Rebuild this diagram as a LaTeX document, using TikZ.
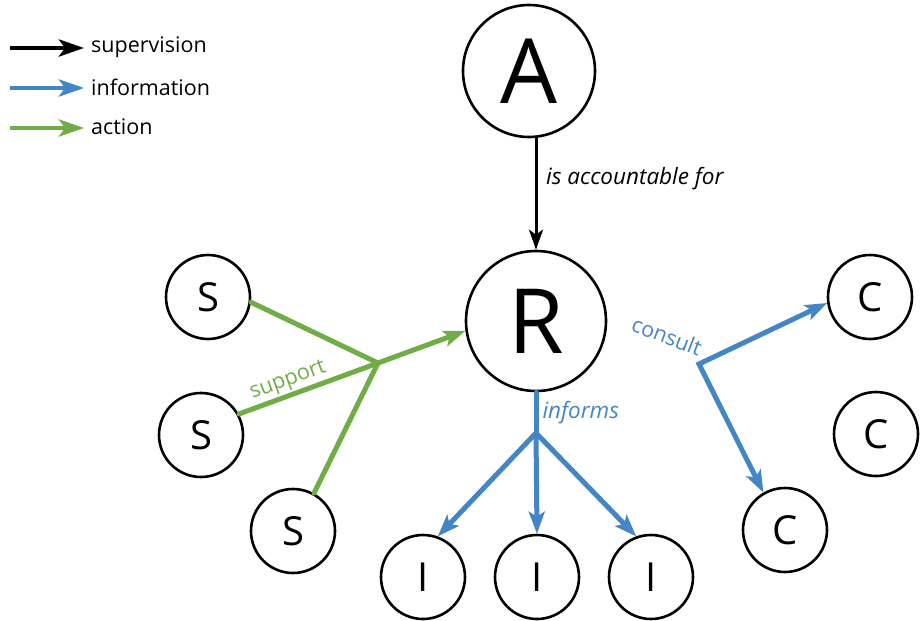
\documentclass[tikz,border=0pt]{standalone}
\usepackage{fontspec}
\setmainfont{Open Sans}
\usetikzlibrary{arrows.meta}
\definecolor{infoblue}{RGB}{68,133,197}
\definecolor{actgreen}{RGB}{112,173,71}

\begin{document}
\begin{tikzpicture}[x=1pt,y=-1pt,
    role/.style={circle,draw,line width=2.6pt,inner sep=0pt,minimum size=#1},
    role/.default=84pt,
    bigletter/.style={font=\fontsize{90}{90}\selectfont},
    letter/.style={font=\fontsize{40}{40}\selectfont},
    lbl/.style={font=\fontsize{21.5}{24}\selectfont,inner sep=1pt},
    itlbl/.style={font=\fontsize{22.5}{25}\selectfont\itshape,inner sep=1pt},
    tip/.style={-{Stealth[length=20pt,width=14pt,inset=5pt]}},
    supv/.style={line width=3pt,tip},
    info/.style={draw=infoblue,line width=5pt,line cap=round},
    act/.style={draw=actgreen,line width=5pt,line cap=round},
    legarrow/.style={line width=4.5pt,-{Stealth[length=25pt,width=17pt,inset=6pt]},shorten >=6pt}]
  \useasboundingbox (0,0) rectangle (922,621);

  % legend
  \node[lbl,anchor=west] (lsup) at (90,47) {supervision};
  \node[lbl,anchor=west] (linf) at (90,87) {information};
  \node[lbl,anchor=west] (lact) at (90,127) {action};
  \coordinate (lsup0) at (10,48);
  \coordinate (linf0) at (10,88);
  \coordinate (lact0) at (10,128);
  \draw[legarrow] (lsup0) -- (lsup.west |- lsup0);
  \draw[legarrow,infoblue] (linf0) -- (linf.west |- linf0);
  \draw[legarrow,actgreen] (lact0) -- (lact.west |- lact0);

  % roles
  \node[role=132pt,bigletter] (A) at (529,71) {A};
  \node[role=140pt,bigletter] (R) at (536,321) {R};
  \node[role,letter] (S1) at (208,297) {S};
  \node[role,letter] (S2) at (201,435) {S};
  \node[role,letter] (S3) at (293,531) {S};
  \node[role,letter] (I1) at (423,577) {I};
  \node[role,letter] (I2) at (537,577) {I};
  \node[role,letter] (I3) at (651,577) {I};
  \node[role,letter] (C1) at (870,297) {C};
  \node[role,letter] (C2) at (876,434) {C};
  \node[role,letter] (C3) at (785,530) {C};

  % junctions
  \coordinate (sj) at (378,363);
  \coordinate (ij) at (536,433);
  \coordinate (cj) at (699,364);

  % supervision
  \draw[supv] (A.south -| R.north) -- (R.north);
  \node[itlbl,anchor=west] (acc) at (545,179) {is accountable for};

  % action
  \draw[act] (S1.-7) -- (sj);
  \draw[act] (S2.29) -- (sj) node[pos=0.39,sloped,above,lbl,inner sep=2pt,text=actgreen] (supp) {support};
  \draw[act] (S3.61) -- (sj);
  \draw[act,-{Stealth[length=22pt,width=16pt,inset=5pt]},line cap=butt] (sj) -- (R.188);

  % information
  \draw[info] (R.south) -- (ij) node[midway,right,itlbl,text=infoblue,inner sep=4pt] (inf) {informs};
  \draw[info,-{Stealth[length=22pt,width=16pt,inset=5pt]}] (ij) -- (I1.70);
  \draw[info,-{Stealth[length=22pt,width=16pt,inset=5pt]}] (ij) -- (I2.north);
  \draw[info,-{Stealth[length=22pt,width=16pt,inset=5pt]}] (ij) -- (I3.110);
  \draw[info,line cap=butt,{Stealth[length=22pt,width=16pt,inset=5pt]}-{Stealth[length=22pt,width=16pt,inset=5pt]}] (C1.188) -- (cj) -- (C3.120);
  \node[lbl,text=infoblue,rotate=-21] (cons) at (667,336) {consult};
\end{tikzpicture}
\end{document}
